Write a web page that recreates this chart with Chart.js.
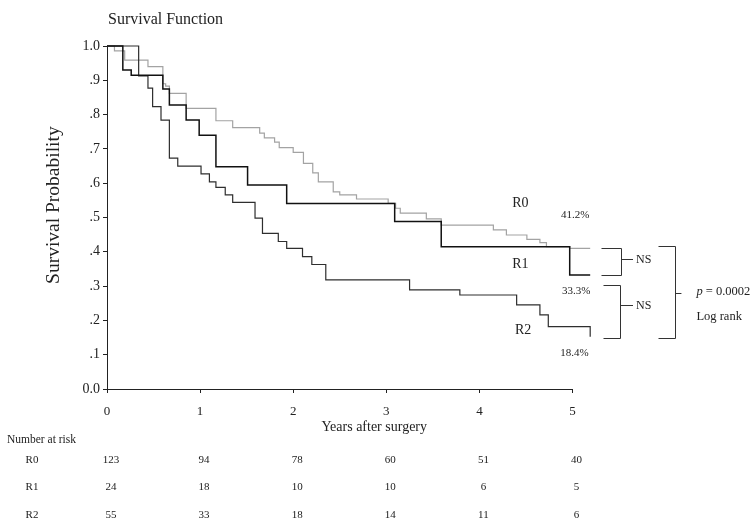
<!DOCTYPE html>
<html><head><meta charset="utf-8">
<script src="https://cdn.jsdelivr.net/npm/chart.js@4.4.1/dist/chart.umd.min.js"></script>
<style>html,body{margin:0;padding:0;background:#fff}canvas{display:block}</style>
</head><body>
<canvas id="c" width="756" height="524"></canvas>
<script>
// ---- data ----
const xTicks = [0, 1, 2, 3, 4, 5];
const yTickLabels = ['0.0', '.1', '.2', '.3', '.4', '.5', '.6', '.7', '.8', '.9', '1.0'];
const seriesNames = ['R0', 'R1', 'R2'];
const endPercents = ['41.2%', '33.3%', '18.4%'];

const r0Times = [0, 0.08, 0.19, 0.44, 0.60, 0.63, 0.67, 0.85, 1.17, 1.35, 1.64, 1.69, 1.80, 1.85, 2.00, 2.11, 2.21, 2.27, 2.43, 2.50, 2.68, 3.02, 3.10, 3.15, 3.43, 3.59, 4.15, 4.29, 4.51, 4.65, 4.72, 4.97, 5.19];
const r0Surv  = [1, 0.986, 0.959, 0.94, 0.89, 0.883, 0.862, 0.818, 0.782, 0.762, 0.746, 0.732, 0.72, 0.704, 0.69, 0.658, 0.63, 0.604, 0.575, 0.566, 0.554, 0.541, 0.527, 0.513, 0.496, 0.478, 0.464, 0.449, 0.436, 0.427, 0.415, 0.41, 0.41];

const r1Times = [0, 0.17, 0.26, 0.60, 0.67, 0.85, 0.99, 1.17, 1.51, 1.93, 3.09, 3.59, 4.97, 5.19];
const r1Surv  = [1, 0.93, 0.915, 0.875, 0.828, 0.784, 0.74, 0.648, 0.595, 0.541, 0.488, 0.415, 0.332, 0.332];

const r2Times = [0, 0.34, 0.44, 0.49, 0.58, 0.67, 0.76, 1.01, 1.10, 1.17, 1.27, 1.35, 1.59, 1.67, 1.84, 1.93, 2.10, 2.20, 2.35, 3.25, 3.79, 4.40, 4.65, 4.74, 5.19];
const r2Surv  = [1, 0.913, 0.877, 0.823, 0.784, 0.673, 0.65, 0.627, 0.604, 0.588, 0.566, 0.544, 0.498, 0.454, 0.43, 0.41, 0.386, 0.363, 0.318, 0.289, 0.274, 0.245, 0.216, 0.182, 0.152];

const riskR0 = [123, 94, 78, 60, 51, 40];
const riskR1 = [24, 18, 10, 10, 6, 5];
const riskR2 = [55, 33, 18, 14, 11, 6];

// ---- styling / annotation layout ----
const SERIF = '"Liberation Serif","DejaVu Serif","Times New Roman",serif';
const INK = '#222';
Chart.defaults.font.family = SERIF;
Chart.defaults.color = INK;

const pts = (ts, ss) => ts.map((t, i) => ({ x: t, y: ss[i] }));

const labelPos = [ // name label and end percent, in data units
  { name: { t: 4.44, s: 0.542 }, pct: { t: 5.03, s: 0.507 } },
  { name: { t: 4.44, s: 0.364 }, pct: { t: 5.04, s: 0.286 } },
  { name: { t: 4.47, s: 0.172 }, pct: { t: 5.02, s: 0.105 } }
];
const brackets = [
  { x0: 5.31, x1: 5.52, top: 0.41, bot: 0.332, tickEnd: 5.65, tickS: 0.378, text: 'NS' },
  { x0: 5.33, x1: 5.51, top: 0.303, bot: 0.148, tickEnd: 5.65, tickS: 0.245, text: 'NS' },
  { x0: 5.92, x1: 6.10, top: 0.417, bot: 0.148, tickEnd: 6.17, tickS: 0.281, text: null }
];

const annotPlugin = {
  id: 'annot',
  afterDraw(chart) {
    const { ctx, chartArea, scales: { x, y } } = chart;
    const X = v => x.getPixelForValue(v);
    const Y = v => y.getPixelForValue(v);
    ctx.save();
    ctx.fillStyle = INK;
    ctx.strokeStyle = '#333';
    ctx.lineWidth = 1;

    // title
    ctx.font = '16px ' + SERIF;
    ctx.textAlign = 'left';
    ctx.textBaseline = 'middle';
    ctx.fillText('Survival Function', chartArea.left + 1, 20);

    // axis titles
    ctx.save();
    ctx.translate(54, Y(0.536));
    ctx.rotate(-Math.PI / 2);
    ctx.textAlign = 'center';
    ctx.font = '19.5px ' + SERIF;
    ctx.fillText('Survival Probability', 0, 0);
    ctx.restore();
    ctx.textAlign = 'center';
    ctx.font = '14px ' + SERIF;
    ctx.fillText('Years after surgery', X(2.87), chartArea.bottom + 38);

    // curve labels
    ctx.textAlign = 'center';
    labelPos.forEach((p, i) => {
      ctx.font = '14px ' + SERIF;
      ctx.fillText(seriesNames[i], X(p.name.t), Y(p.name.s));
      ctx.font = '11px ' + SERIF;
      ctx.fillText(endPercents[i], X(p.pct.t), Y(p.pct.s));
    });

    // brackets
    brackets.forEach(b => {
      const xa = Math.round(X(b.x0)) + 0.5, xb = Math.round(X(b.x1)) + 0.5;
      const yt = Math.round(Y(b.top)) + 0.5, yb = Math.round(Y(b.bot)) + 0.5;
      const ym = Math.round(Y(b.tickS)) + 0.5;
      ctx.beginPath();
      ctx.moveTo(xa, yt); ctx.lineTo(xb, yt); ctx.lineTo(xb, yb); ctx.lineTo(xa, yb);
      ctx.moveTo(xb, ym); ctx.lineTo(X(b.tickEnd), ym);
      ctx.stroke();
      if (b.text) {
        ctx.font = '12px ' + SERIF;
        ctx.textAlign = 'left';
        ctx.fillText(b.text, X(b.tickEnd) + 3, ym);
      }
    });
    // p value text
    const pb = brackets[2];
    const px = X(pb.tickEnd) + 15;
    ctx.textAlign = 'left';
    ctx.font = 'italic 12.5px ' + SERIF;
    ctx.fillText('p', px, Y(0.283));
    const pw = ctx.measureText('p').width;
    ctx.font = '12.5px ' + SERIF;
    ctx.fillText(' = 0.0002', px + pw, Y(0.283));
    ctx.fillText('Log rank', px, Y(0.211));

    // number at risk table
    const base = chartArea.bottom;
    ctx.font = '11.5px ' + SERIF;
    ctx.textAlign = 'left';
    ctx.fillText('Number at risk', 7, base + 51);
    const rows = [riskR0, riskR1, riskR2];
    const rowY = [71, 98, 126];
    ctx.font = '11px ' + SERIF;
    rows.forEach((r, ri) => {
      ctx.textAlign = 'center';
      ctx.fillText(seriesNames[ri], 32, base + rowY[ri]);
      r.forEach((n, ci) => {
        ctx.fillText(String(n), X(xTicks[ci]) + 4, base + rowY[ri]);
      });
    });
    ctx.restore();
  }
};

const common = { stepped: true, pointRadius: 0, pointHoverRadius: 0, fill: false, clip: false, tension: 0 };

new Chart(document.getElementById('c'), {
  type: 'line',
  data: {
    datasets: [
      Object.assign({ label: seriesNames[1], data: pts(r1Times, r1Surv), borderColor: '#111', borderWidth: 1.5, order: 1 }, common),
      Object.assign({ label: seriesNames[2], data: pts(r2Times, r2Surv), borderColor: '#2e2e2e', borderWidth: 1.2, order: 2 }, common),
      Object.assign({ label: seriesNames[0], data: pts(r0Times, r0Surv), borderColor: '#a3a3a3', borderWidth: 1.2, order: 3 }, common)
    ]
  },
  options: {
    responsive: false,
    animation: false,
    devicePixelRatio: 1,
    layout: { padding: { left: 0, right: 183.5, top: 46, bottom: 85 } },
    plugins: { legend: { display: false }, tooltip: { enabled: false }, title: { display: false } },
    scales: {
      x: {
        type: 'linear', min: 0, max: 5,
        afterBuildTicks: s => { s.ticks = xTicks.map(v => ({ value: v })); },
        ticks: { padding: 11, font: { size: 13 }, color: INK, callback: v => String(v) },
        grid: { drawOnChartArea: false, tickLength: 4, color: INK },
        border: { color: INK, width: 1 },
        title: { display: false },
        afterFit: s => { s.height = 50; }
      },
      y: {
        type: 'linear', min: 0, max: 1,
        afterBuildTicks: s => { s.ticks = yTickLabels.map((_, i) => ({ value: i / 10 })); },
        ticks: { padding: 3, font: { size: 14 }, color: INK, callback: v => yTickLabels[Math.round(v * 10)] },
        grid: { drawOnChartArea: false, tickLength: 4, color: INK },
        border: { color: INK, width: 1 },
        title: { display: false },
        afterFit: s => { s.width = 107; }
      }
    }
  },
  plugins: [annotPlugin]
});
</script>
</body></html>
